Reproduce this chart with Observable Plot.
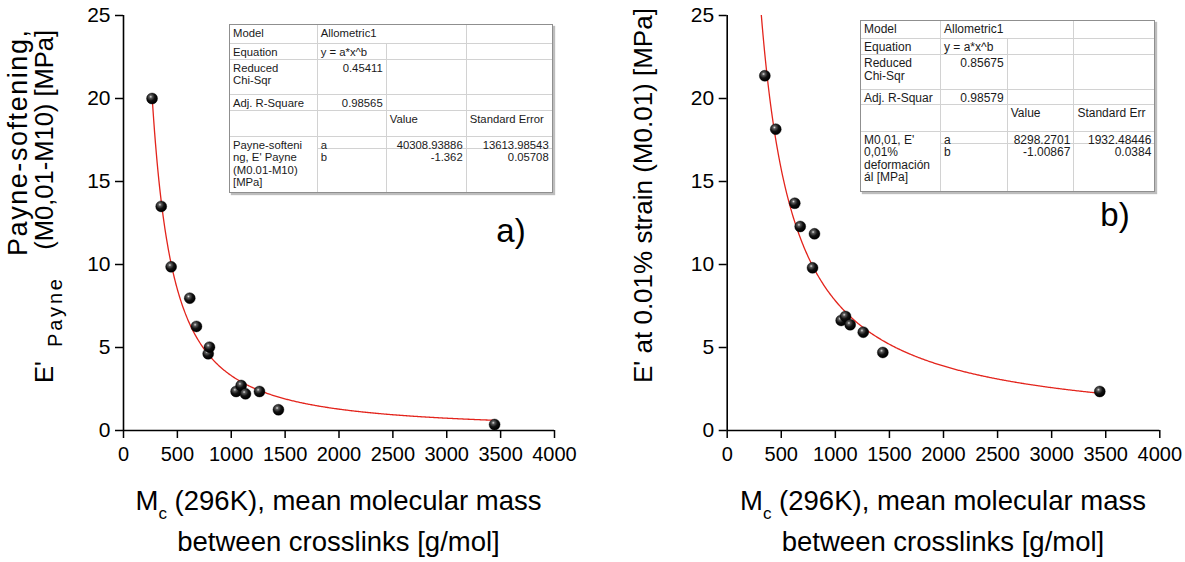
<!DOCTYPE html>
<html><head><meta charset="utf-8">
<script src="https://cdn.jsdelivr.net/npm/d3@7"></script>
<script src="https://cdn.jsdelivr.net/npm/@observablehq/plot@0.6"></script>
<style>
html,body{margin:0;padding:0;background:#fff;}
#root{position:relative;width:1185px;height:562px;overflow:hidden;font-family:"Liberation Sans",Arial,sans-serif;}
#root svg{position:absolute;top:0;}
.tbl{position:absolute;display:grid;background:#fff;border:1px solid #8f8f8f;box-shadow:2px 2px 1px #bdbdbd;color:#1a1a1a;}
.tbl div{box-sizing:border-box;padding:2px 3px 0 3px;white-space:pre;line-height:12.3px;overflow:visible;min-height:0;min-width:0;}
</style></head><body><div id="root"></div>
<script>
const FONT = '"Liberation Sans", Arial, sans-serif';

// Axis ticks
const xTicks = [0, 500, 1000, 1500, 2000, 2500, 3000, 3500, 4000];
const yTicks = [0, 5, 10, 15, 20, 25];

// Panel a) Payne-softening vs Mc
const mcPayne = [265, 350, 442, 615, 677, 786, 798, 1045, 1092, 1132, 1262, 1438, 3444];
const ePayne  = [20.0, 13.5, 9.86, 7.97, 6.27, 4.62, 5.02, 2.35, 2.71, 2.21, 2.35, 1.25, 0.36];

// Panel b) E' at 0.01% strain vs Mc
const mcStrain = [348, 449, 625, 675, 789, 807, 1054, 1094, 1137, 1258, 1439, 3445];
const eStrain  = [21.37, 18.15, 13.69, 12.29, 9.80, 11.85, 6.63, 6.87, 6.37, 5.92, 4.70, 2.35];

// Allometric1 fits y = a*x^b (parameters from the fit tables)
const fitPayne  = {a: 40308.93886, b: -1.362, from: 265, to: 3445};
const fitStrain = {a: 8298.2701, b: -1.00867, from: 300, to: 3445};

// Fit result tables (null = merged with neighbour)
const tablePayne = [
  ["Model", "Allometric1", null, ""],
  ["Equation", "y = a*x^b", "", ""],
  ["Reduced\nChi-Sqr", "0.45411", "", ""],
  ["Adj. R-Square", "0.98565", "", ""],
  ["", "", "Value", "Standard Error"],
  ["Payne-softeni\nng, E' Payne\n(M0.01-M10)\n[MPa]", "a", "40308.93886", "13613.98543"],
  [null, "b", "-1.362", "0.05708"]
];
const tableStrain = [
  ["Model", "Allometric1", null, ""],
  ["Equation", "y = a*x^b", "", ""],
  ["Reduced\nChi-Sqr", "0.85675", "", ""],
  ["Adj. R-Squar", "0.98579", "", ""],
  ["", "", "Value", "Standard Err"],
  ["M0,01, E'\n0,01%\ndeformación\nál [MPa]", "a", "8298.2701", "1932.48446"],
  [null, "b", "-1.00867", "0.0384"]
];

const root = document.getElementById("root");

function panel(o) {
  const pts = o.mc.map((x, i) => ({x, y: o.e[i]}));
  const n = 400;
  const curve = d3.range(n + 1).map(i => {
    const x = o.fit.from + (o.fit.to - o.fit.from) * i / n;
    return {x, y: o.fit.a * Math.pow(x, o.fit.b)};
  });
  const svg = Plot.plot({
    width: o.width, height: 562,
    marginLeft: o.marginLeft, marginRight: o.marginRight, marginTop: 15, marginBottom: 132,
    x: {domain: [0, 4000]}, y: {domain: [0, 25]},
    style: {background: "transparent", color: "#000", fontFamily: FONT, overflow: "visible"},
    marks: [
      Plot.line(curve, {x: "x", y: "y", stroke: "#e3241c", strokeWidth: 1.3, clip: true}),
      Plot.dot(pts, {x: "x", y: "y", r: 5.5, fill: `url(#${o.grad})`, stroke: "#000", strokeWidth: 0.4}),
      Plot.ruleX([0], {stroke: "#000", strokeWidth: 1.6}),
      Plot.ruleY([0], {stroke: "#000", strokeWidth: 1.6}),
      Plot.axisX({ticks: xTicks, tickSize: 8, tickPadding: 8, tickFormat: d => String(d), fontSize: 20, label: null, strokeWidth: 1.5}),
      Plot.axisY({ticks: yTicks, tickSize: 8, tickPadding: 5, tickFormat: d => String(d), fontSize: 21, label: null, strokeWidth: 1.5})
    ]
  });
  svg.style.left = o.left + "px";
  const s = d3.select(svg);
  const g = s.insert("defs", ":first-child").append("radialGradient")
    .attr("id", o.grad).attr("cx", "38%").attr("cy", "34%").attr("r", "62%");
  g.append("stop").attr("offset", "0%").attr("stop-color", "#e0e0e0");
  g.append("stop").attr("offset", "22%").attr("stop-color", "#5a5a5a");
  g.append("stop").attr("offset", "60%").attr("stop-color", "#111");
  g.append("stop").attr("offset", "100%").attr("stop-color", "#000");

  // x label
  const cx = o.marginLeft + (o.width - o.marginLeft - o.marginRight) / 2;
  const t1 = s.append("text").attr("x", cx).attr("y", 510).attr("text-anchor", "middle")
    .attr("font-size", 27.5).attr("font-family", FONT).attr("fill", "#000");
  t1.append("tspan").text("M");
  t1.append("tspan").attr("font-size", 17).attr("dy", 9).text("c");
  t1.append("tspan").attr("dy", -9).text(" (296K), mean molecular mass");
  s.append("text").attr("x", cx).attr("y", 551).attr("text-anchor", "middle")
    .attr("font-size", 27.5).attr("font-family", FONT).attr("fill", "#000")
    .text("between crosslinks [g/mol]");
  // panel tag
  s.append("text").attr("x", o.tag[1]).attr("y", o.tag[2]).attr("font-size", 33)
    .attr("font-family", FONT).attr("fill", "#000").text(o.tag[0]);
  root.appendChild(svg);
  return s;
}

const sA = panel({mc: mcPayne, e: ePayne, fit: fitPayne, grad: "ballA", width: 592, marginLeft: 123, marginRight: 38, left: 0, tag: ["a)", 511, 242]});
const sB = panel({mc: mcStrain, e: eStrain, fit: fitStrain, grad: "ballB", width: 593, marginLeft: 134.7, marginRight: 25.7, left: 592, tag: ["b)", 523, 226]});

// y labels
function vtext(s, str, x, y, size, anchor) {
  return s.append("text").attr("transform", `translate(${x},${y}) rotate(-90)`)
    .attr("text-anchor", anchor).attr("font-size", size)
    .attr("font-family", FONT).attr("fill", "#000").text(str);
}
vtext(sA, "Payne-softening,", 27, 30, 27, "end").attr("textLength", 226);
vtext(sA, "E'", 53, 383, 25.5, "start");
vtext(sA, "Payne", 62, 347, 20, "start").attr("textLength", 68);
vtext(sA, "(M0,01-M10) [MPa]", 53, 30, 25.5, "end");
vtext(sB, "E' at 0.01% strain (M0.01) [MPa]", 60, 383, 26, "start");

// tables
function table(rows, o) {
  const div = document.createElement("div");
  div.className = "tbl";
  div.style.left = o.left + "px";
  div.style.top = o.top + "px";
  div.style.fontSize = o.fontSize + "px";
  div.style.gridTemplateColumns = o.cols.map(c => c + "px").join(" ");
  div.style.gridTemplateRows = o.rows.map(r => r + "px").join(" ");
  const nr = rows.length, nc = rows[0].length;
  rows.forEach((row, r) => row.forEach((txt, c) => {
    if (txt === null) return;
    let cs = 1; while (c + cs < nc && rows[r][c + cs] === null) cs++;
    let rs = 1; while (r + rs < nr && rows[r + rs][c] === null) rs++;
    const cell = document.createElement("div");
    cell.style.gridColumn = `${c + 1} / span ${cs}`;
    cell.style.gridRow = `${r + 1} / span ${rs}`;
    if (c + cs < nc) cell.style.borderRight = "1px solid #d2d2d2";
    if (r + rs < nr) cell.style.borderBottom = "1px solid #d2d2d2";
    cell.style.textAlign = /^-?[\d.]+$/.test(txt) ? "right" : "left";
    cell.textContent = txt;
    div.appendChild(cell);
  }));
  root.appendChild(div);
}
table(tablePayne, {left: 229, top: 24, fontSize: 11.3, cols: [87.7, 69, 80, 85], rows: [19, 16, 35, 16, 26, 12, 43]});
table(tableStrain, {left: 860, top: 20, fontSize: 12, cols: [80, 66.7, 66.7, 80], rows: [18.3, 16, 34.7, 15.3, 26.7, 11.7, 47.3]});
</script></body></html>
